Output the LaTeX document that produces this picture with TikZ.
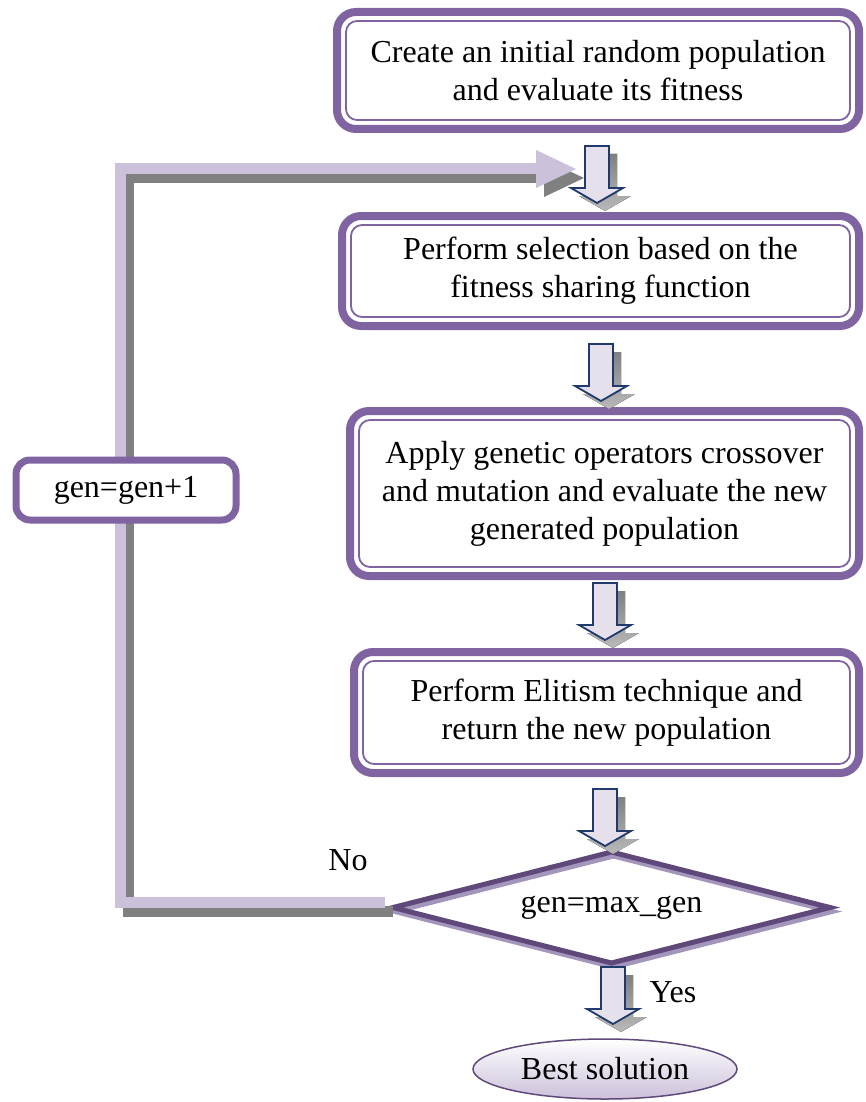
\documentclass[tikz,border=0pt]{standalone}
\usepackage{fontspec}
\setmainfont{Liberation Serif}
\usetikzlibrary{shapes.geometric,calc}
\definecolor{boxpurple}{HTML}{8064A2}
\definecolor{loopviolet}{HTML}{CCC1DA}
\definecolor{shadowgray}{HTML}{808080}
\definecolor{diapurple}{HTML}{5F497A}
\definecolor{diashadow}{HTML}{A495BD}
\definecolor{arrowedge}{HTML}{1F3A6B}
\definecolor{arrowfill}{HTML}{E6E0EC}
\begin{document}
\begin{tikzpicture}[x=1pt,y=1pt,
  txt/.style={font=\fontsize{32}{38}\selectfont, align=center},
  procbox/.style={txt, draw=boxpurple, line width=8pt, rounded corners=19pt,
    fill=white, inner sep=0pt, outer sep=0pt},
  innerline/.style={draw=boxpurple, line width=1.8pt, rounded corners=11pt},
  genbox/.style={txt, draw=boxpurple, line width=7pt, rounded corners=14pt,
    fill=white, inner sep=0pt, outer sep=0pt},
  loopline/.style={draw=loopviolet, line width=11pt, line join=miter},
  loopshadow/.style={draw=shadowgray, line width=11pt, line join=miter,
    transform canvas={xshift=8pt,yshift=-9pt}},
  decision/.style={diamond, line width=5pt, minimum width=437pt,
    minimum height=111pt, inner sep=0pt, outer sep=0pt},
  pics/blockarrow/.style={code={
    \fill[top color=shadowgray, bottom color=shadowgray!55]
      (-4,-8) -- (20,-8) -- (20,-50) -- (34,-50) -- (8,-65) -- (-18,-50) -- (-4,-50) -- cycle;
    \draw[draw=arrowedge, line width=1.8pt, fill=arrowfill, line join=miter]
      (-12,0) -- (12,0) -- (12,-42) -- (26,-42) -- (0,-57) -- (-26,-42) -- (-12,-42) -- cycle;
  }}]
\useasboundingbox (0,0) rectangle (865,-1102);

% process boxes
\node[procbox, minimum width=522pt, minimum height=117pt] (b1) at (598,-70.5)
  {Create an initial random population\\and evaluate its fitness};
\draw[innerline] ($(b1.north west)+(9,-9)$) rectangle ($(b1.south east)+(-9,9)$);

\node[procbox, minimum width=517pt, minimum height=110pt] (b2) at (600.5,-271)
  {Perform selection based on the\\fitness sharing function};
\draw[innerline] ($(b2.north west)+(9,-9)$) rectangle ($(b2.south east)+(-9,9)$);

\node[procbox, minimum width=509pt, minimum height=165pt] (b3) at (604.5,-493.5)
  {Apply genetic operators crossover\\and mutation and evaluate the new\\generated population};
\draw[innerline] ($(b3.north west)+(9,-9)$) rectangle ($(b3.south east)+(-9,9)$);

\node[procbox, minimum width=505pt, minimum height=121pt] (b4) at (606.5,-712.5)
  {Perform Elitism technique and\\return the new population};
\draw[innerline] ($(b4.north west)+(9,-9)$) rectangle ($(b4.south east)+(-9,9)$);

% decision
\node[decision, draw=diashadow] (dshadow) at (613.5,-911.5) {};
\node[decision, draw=diapurple] (d) at (611.5,-907.5) {};
\node[txt] (dtext) at (d.center) {gen=max\_gen};

% final
\node[ellipse, draw=diapurple, line width=1.5pt, top color=white, bottom color=loopviolet,
  minimum width=264pt, minimum height=60pt, inner sep=0pt, txt] (e) at (605,-1069) {Best solution};

% block arrows
\pic at (597,-146) {blockarrow};
\pic at (601,-344) {blockarrow};
\pic at (605,-583) {blockarrow};
\pic at (605,-789) {blockarrow};
\pic at (613,-967) {blockarrow};

% loop back
\coordinate (headbase) at (536,-169);
\coordinate (tipA) at (576,-169);
\draw[loopshadow] ([shift={(-8pt,5.5pt)}]d.west) -| (120,-490);
\draw[loopshadow] (120,-490) |- (headbase);
\fill[shadowgray, transform canvas={xshift=8pt,yshift=-9pt}]
  ($(headbase)+(0,19)$) -- (tipA) -- ($(headbase)+(0,-19)$) -- cycle;
\draw[loopline] ([shift={(-8pt,5.5pt)}]d.west) -| (120,-490);
\draw[loopline] (120,-490) |- (headbase);
\fill[loopviolet] ($(headbase)+(0,19)$) -- (tipA) -- ($(headbase)+(0,-19)$) -- cycle;

\node[genbox, minimum width=220pt, minimum height=60pt] (g) at (126,-490) {gen=gen+1};

% labels
\node[txt] (no) at (348,-860) {No};
\node[txt] (yes) at (673,-992) {Yes};
\end{tikzpicture}
\end{document}
